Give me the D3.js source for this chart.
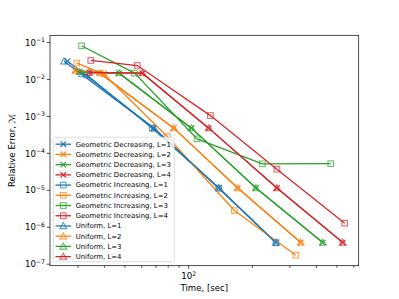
<!DOCTYPE html>
<html><head><meta charset="utf-8">
<script src="https://cdn.jsdelivr.net/npm/d3@7"></script>
<style>body{margin:0;background:#fff}svg{display:block;font-family:"DejaVu Sans",sans-serif}</style>
</head><body><svg id="c" width="399" height="299"></svg>
<script>
// ---- data: [time (s), relative error] ----
const geoDecL1 = [[26.8,3.10e-2],[68.5,4.81e-4],[138.4,1.15e-5],[257.7,3.84e-7]];
const geoDecL2 = [[29.2,1.75e-2],[38.1,1.48e-2],[85.0,4.81e-4],[170.1,1.15e-5],[337.5,3.84e-7]];
const geoDecL3 = [[30.6,1.61e-2],[46.9,1.48e-2],[103.0,4.81e-4],[207.4,1.15e-5],[428.5,3.84e-7]];
const geoDecL4 = [[33.9,1.54e-2],[60.4,1.48e-2],[124.2,4.81e-4],[260.5,1.15e-5],[532.3,3.84e-7]];
const geoIncL1 = [[31.3,1.42e-2],[33.0,1.33e-2],[67.2,4.81e-4],[138.4,1.15e-5],[257.7,3.84e-7]];
const geoIncL2 = [[29.6,2.77e-2],[39.7,1.42e-2],[79.1,2.85e-4],[164.1,2.83e-6],[320.0,1.75e-7]];
const geoIncL3 = [[31.2,8.14e-2],[55.5,1.48e-2],[109.5,2.47e-4],[222.2,5.19e-5],[467.5,5.26e-5]];
const geoIncL4 = [[34.5,3.26e-2],[57.2,2.38e-2],[126.5,1.05e-3],[260.5,3.73e-5],[543.7,1.29e-6]];
const uniL1 = [[25.8,3.10e-2],[68.5,4.81e-4],[138.4,1.15e-5],[257.7,3.84e-7]];
const uniL2 = [[29.2,1.75e-2],[38.1,1.48e-2],[85.0,4.81e-4],[170.1,1.15e-5],[337.5,3.84e-7]];
const uniL3 = [[30.6,1.61e-2],[46.9,1.48e-2],[103.0,4.81e-4],[207.4,1.15e-5],[428.5,3.84e-7]];
const uniL4 = [[33.9,1.54e-2],[60.4,1.48e-2],[124.2,4.81e-4],[260.5,1.15e-5],[532.3,3.84e-7]];

const seriesLabels = ["Geometric Decreasing, L=1","Geometric Decreasing, L=2","Geometric Decreasing, L=3","Geometric Decreasing, L=4",
  "Geometric Increasing, L=1","Geometric Increasing, L=2","Geometric Increasing, L=3","Geometric Increasing, L=4",
  "Uniform, L=1","Uniform, L=2","Uniform, L=3","Uniform, L=4"];
const seriesData = [geoDecL1,geoDecL2,geoDecL3,geoDecL4,geoIncL1,geoIncL2,geoIncL3,geoIncL4,uniL1,uniL2,uniL3,uniL4];
const seriesMarker = ["x","x","x","x","s","s","s","s","t","t","t","t"];
const palette = ["#1f77b4","#ff7f0e","#2ca02c","#d62728"];
const yTickExps = [-7,-6,-5,-4,-3,-2,-1];
const xTickExps = [2];
const xLabel = "Time, [sec]";
const yLabel = "Relative Error, ℳ";

// ---- layout ----
const L = 50, R = 358.7, T = 35.3, B = 265.7;
const svg = d3.select("#c");
const all = seriesData.flat();
function logExtent(vals){
  const lo = Math.log10(d3.min(vals)), hi = Math.log10(d3.max(vals)), m = (hi-lo)*0.05;
  return [Math.pow(10,lo-m), Math.pow(10,hi+m)];
}
const x = d3.scaleLog().domain(logExtent(all.map(d=>d[0]))).range([L,R]);
const y = d3.scaleLog().domain(logExtent(all.map(d=>d[1]))).range([B,T]);

function minorTicks(scale){
  const [a,b] = scale.domain(); const out=[];
  for(let e=Math.floor(Math.log10(a)); e<=Math.ceil(Math.log10(b)); e++)
    for(let k=2;k<=9;k++){const v=k*Math.pow(10,e); if(v>=a&&v<=b) out.push(v);}
  return out;
}
const axes = svg.append("g").attr("stroke","#000").attr("stroke-width",0.7);
minorTicks(x).forEach(v=>axes.append("line").attr("x1",x(v)).attr("x2",x(v)).attr("y1",B).attr("y2",B+2));
xTickExps.forEach(e=>{
  const v=Math.pow(10,e);
  axes.append("line").attr("x1",x(v)).attr("x2",x(v)).attr("y1",B).attr("y2",B+3.2);
  const t=svg.append("text").attr("x",x(v)).attr("y",B+13.5).attr("text-anchor","middle").attr("font-size",8.6);
  t.append("tspan").text("10");
  t.append("tspan").attr("dy",-3.6).attr("font-size",6.1).text(String(e).replace("-","−"));
});
yTickExps.forEach(e=>{
  const v=Math.pow(10,e);
  axes.append("line").attr("y1",y(v)).attr("y2",y(v)).attr("x1",L).attr("x2",L-3.2);
  const t=svg.append("text").attr("x",L-5).attr("y",y(v)+3.2).attr("text-anchor","end").attr("font-size",8.6);
  t.append("tspan").text("10");
  t.append("tspan").attr("dy",-3.6).attr("font-size",6.1).text(String(e).replace("-","−"));
});

svg.append("clipPath").attr("id","pc").append("rect").attr("x",L).attr("y",T).attr("width",R-L).attr("height",B-T);
const plot = svg.append("g").attr("clip-path","url(#pc)");

const ms = 5.6;
function drawMarker(g, type, cx, cy, color){
  if(type==="x"){
    g.append("path").attr("d",`M${cx-ms/2},${cy-ms/2}L${cx+ms/2},${cy+ms/2}M${cx-ms/2},${cy+ms/2}L${cx+ms/2},${cy-ms/2}`)
      .attr("stroke",color).attr("stroke-width",1.1).attr("fill","none");
  } else if(type==="s"){
    g.append("rect").attr("x",cx-ms/2).attr("y",cy-ms/2).attr("width",ms).attr("height",ms)
      .attr("fill","none").attr("stroke",color).attr("stroke-width",1.1).attr("stroke-opacity",0.7);
  } else {
    const h=ms*0.6;
    g.append("path").attr("d",`M${cx},${cy-h}L${cx+h},${cy+h*0.8}L${cx-h},${cy+h*0.8}Z`)
      .attr("fill","none").attr("stroke",color).attr("stroke-width",1.1).attr("stroke-opacity",0.75);
  }
}
const line = d3.line().x(d=>x(d[0])).y(d=>y(d[1]));
seriesData.forEach((data,i)=>{
  const color = palette[i%4];
  plot.append("path").datum(data).attr("d",line).attr("fill","none").attr("stroke",color).attr("stroke-width",1.3);
  data.forEach(d=>drawMarker(plot, seriesMarker[i], x(d[0]), y(d[1]), color));
});

svg.append("rect").attr("x",L).attr("y",T).attr("width",R-L).attr("height",B-T)
  .attr("fill","none").attr("stroke","#000").attr("stroke-width",0.7);

svg.append("text").attr("x",(L+R)/2).attr("y",291).attr("text-anchor","middle").attr("font-size",8.6).text(xLabel);
svg.append("text").attr("transform",`translate(15,${(T+B)/2}) rotate(-90)`).attr("text-anchor","middle").attr("font-size",8.6).text(yLabel);

const lg = svg.append("g");
lg.append("rect").attr("x",53.3).attr("y",137.2).attr("width",121).attr("height",124.5).attr("rx",2)
  .attr("fill","#fff").attr("fill-opacity",0.8).attr("stroke","#d0d0d0").attr("stroke-width",0.7);
seriesLabels.forEach((lab,i)=>{
  const cy = 144.2 + i*10.22, color = palette[i%4];
  lg.append("line").attr("x1",55.5).attr("x2",71).attr("y1",cy).attr("y2",cy).attr("stroke",color).attr("stroke-width",1.3);
  drawMarker(lg, seriesMarker[i], 63.3, cy, color);
  lg.append("text").attr("x",75.7).attr("y",cy+2.4).attr("font-size",6.9).text(lab);
});
</script></body></html>
